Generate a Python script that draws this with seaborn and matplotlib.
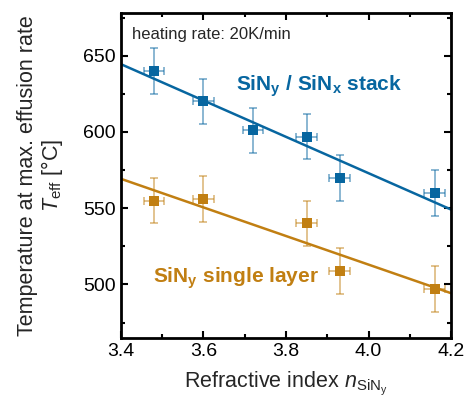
import seaborn as sns
import matplotlib.pyplot as plt
import pandas as pd
from matplotlib.ticker import MultipleLocator

# SiNy / SiNx stack
n_stack = [3.48, 3.60, 3.72, 3.85, 3.93, 4.16]
t_stack = [640, 620, 601, 597, 570, 560]
# SiNy single layer
n_single = [3.48, 3.60, 3.85, 3.93, 4.16]
t_single = [555, 556, 540, 509, 497]

xerr = 0.025
yerr = 15

blue = "#0766a0"
orange = "#c17f12"

df_stack = pd.DataFrame({"n": n_stack, "T": t_stack})
df_single = pd.DataFrame({"n": n_single, "T": t_single})

sns.set_style("ticks")
plt.rcParams["font.family"] = ["Liberation Sans", "DejaVu Sans"]
plt.rcParams["mathtext.fontset"] = "custom"
plt.rcParams["mathtext.rm"] = "Liberation Sans"
plt.rcParams["mathtext.it"] = "Liberation Sans:italic"
plt.rcParams["mathtext.bf"] = "Liberation Sans:bold"

fig = plt.figure(figsize=(4.7, 4.08), dpi=100)
ax = fig.add_axes([0.257, 0.172, 0.703, 0.796])
ax.set_xlim(3.4, 4.2)
ax.set_ylim(465, 678)

for d, c in [(df_stack, blue), (df_single, orange)]:
    ax.errorbar(d["n"], d["T"], xerr=xerr, yerr=yerr, fmt="none",
                ecolor=c, alpha=0.55, elinewidth=1.2, capsize=3, capthick=1.2)
    sns.regplot(data=d, x="n", y="T", ax=ax, ci=None, truncate=False,
                scatter=False, line_kws={"color": c, "lw": 1.8})
    sns.scatterplot(data=d, x="n", y="T", ax=ax, color=c, marker="s",
                    s=48, edgecolor=c, linewidth=0, zorder=5)

ax.text(0.035, 0.935, "heating rate: 20K/min", transform=ax.transAxes,
        fontsize=12, va="center", ha="left")
ax.text(3.88, 630, r"SiN$_\mathbf{y}$ / SiN$_\mathbf{x}$ stack", color=blue,
        fontsize=15, fontweight="bold", ha="center", va="center")
ax.text(3.68, 504, r"SiN$_\mathbf{y}$ single layer", color=orange,
        fontsize=15, fontweight="bold", ha="center", va="center")

ax.set_xlabel(r"Refractive index $\it{n}_{\mathrm{SiN_y}}$", fontsize=15.5,
              labelpad=7)
ax.set_ylabel("Temperature at max. effusion rate\n" + r"$\it{T}_{\mathrm{eff}}$ [°C]",
              fontsize=15.5, linespacing=1.05, labelpad=13)

ax.xaxis.set_major_locator(MultipleLocator(0.2))
ax.xaxis.set_minor_locator(MultipleLocator(0.1))
ax.yaxis.set_major_locator(MultipleLocator(50))
ax.yaxis.set_minor_locator(MultipleLocator(25))
ax.xaxis.set_major_formatter(plt.FormatStrFormatter("%.1f"))
ax.tick_params(which="both", direction="in", top=True, right=True,
               labelsize=14, width=1.5, color="black", labelcolor="black")
ax.tick_params(which="major", length=5)
ax.tick_params(which="minor", length=3)
for s in ax.spines.values():
    s.set_linewidth(2)
    s.set_color("black")
    s.set_visible(True)

fig.savefig("out.png", dpi=100)
